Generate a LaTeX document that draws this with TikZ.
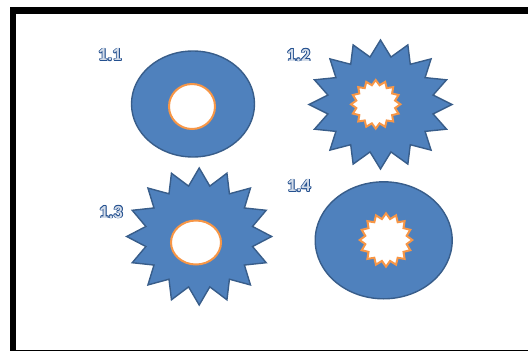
\documentclass[tikz,border=0pt]{standalone}
\usepackage{fontspec}
\setmainfont{Carlito}
\usepackage{tikz}
\usetikzlibrary{positioning}

\definecolor{shapeblue}{HTML}{4F81BD}
\definecolor{edgeblue}{HTML}{385D8A}
\definecolor{holeorange}{HTML}{F79646}
\definecolor{lblblue}{HTML}{24508F}

% hollow (outlined) label text
\newcommand{\hollowtext}[1]{%
    \makebox[0pt][l]{%
        \foreach \dx/\dy in {0.8/0,-0.8/0,0/0.8,0/-0.8,0.6/0.6,-0.6/0.6,0.6/-0.6,-0.6/-0.6}{%
            \makebox[0pt][l]{\kern\dx pt\raisebox{\dy pt}{\color{lblblue}#1}}%
        }%
    }%
    {\color{white!80!lblblue}#1}%
}

\tikzset{
    body/.style={fill=shapeblue, draw=edgeblue, line width=1.4pt, line join=miter},
    hole/.style={fill=white, draw=holeorange, line width=2pt},
    lbl/.style={inner sep=0pt, font=\bfseries\fontsize{18.5}{18.5}\selectfont}
}

% star with 16 points: centre x, centre y, radius x, radius y, inner ratio
\newcommand{\starpath}[6]{%
    \draw[#6] plot[samples at={0,...,31}, variable=\k]
        ({#1 + #3*(1 - (1-#5)*mod(\k,2))*cos(90 + 11.25*\k)},
         {#2 + #4*(1 - (1-#5)*mod(\k,2))*sin(90 + 11.25*\k)}) -- cycle;
}

\begin{document}
\begin{tikzpicture}[x=1pt, y=-1pt]

    \useasboundingbox (0,0) rectangle (528,351);
    \clip (0,0) rectangle (528,351);

    % FRAME
    \draw[line width=6.5pt] (13,10.5) rectangle (545,353);

    % 1.1 ELLIPSE WITH ROUND HOLE
    \draw[body] (193,104) ellipse [x radius=61.5, y radius=53];
    \draw[hole] (192,106.5) ellipse [x radius=23, y radius=22.5];

    % 1.2 STAR WITH STAR HOLE
    \starpath{380.5}{104.5}{71.5}{64.5}{0.75}{body}
    \starpath{375.7}{104.3}{24.7}{24.3}{0.8}{hole}

    % 1.3 STAR WITH ROUND HOLE
    \starpath{199.2}{236.5}{72.5}{68.5}{0.75}{body}
    \draw[hole] (196,242.5) ellipse [x radius=25, y radius=22];

    % 1.4 ELLIPSE WITH STAR HOLE
    \draw[body] (383.7,240.3) ellipse [x radius=68.5, y radius=58.5];
    \starpath{386}{240}{26.3}{26.7}{0.8}{hole}

    % LABELS
    \node[lbl] (l11) at (110,55)  {\hollowtext{1.1}};
    \node[lbl] (l12) at (298.5,55) {\hollowtext{1.2}};
    \node[lbl] (l13) at (111,212) {\hollowtext{1.3}};
    \node[lbl] (l14) at (299,186) {\hollowtext{1.4}};

\end{tikzpicture}
\end{document}
